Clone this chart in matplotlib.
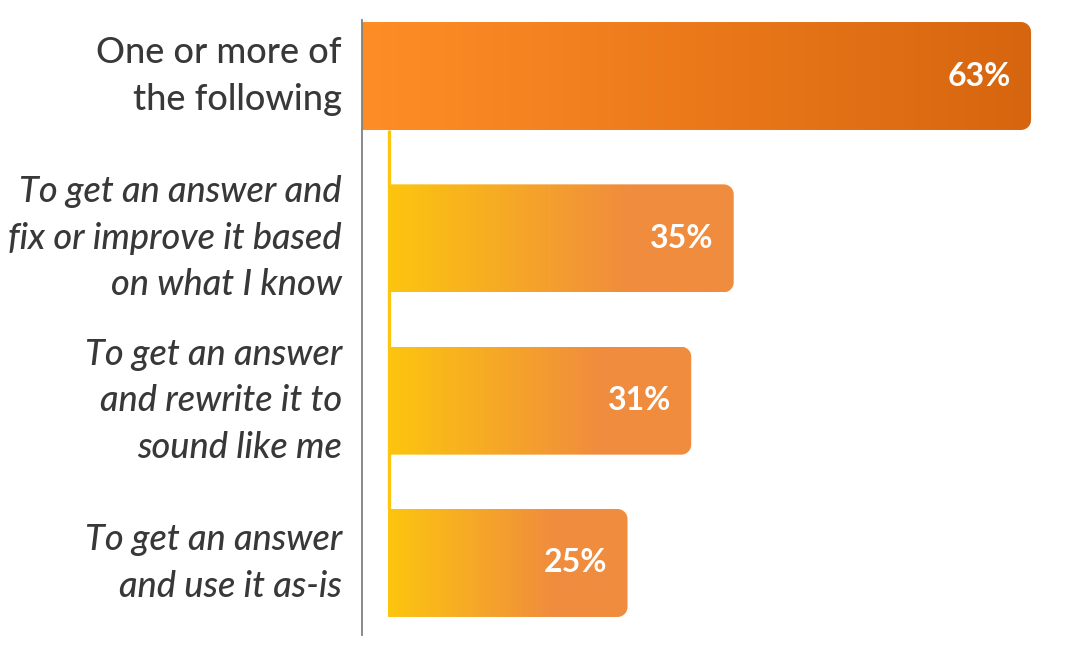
import matplotlib
matplotlib.use("Agg")
import matplotlib.pyplot as plt
from matplotlib.patches import Polygon
from matplotlib.colors import to_rgb
import numpy as np

CATEGORIES = [
    "One or more of\nthe following",
    "To get an answer and\nfix or improve it based\non what I know",
    "To get an answer\nand rewrite it to\nsound like me",
    "To get an answer\nand use it as-is",
]
VALUES = [63, 35, 31, 25]

W, H = 1066, 663
X_PX = 10.62         # pixels per percent
Y_PX = 162.33        # pixels per category step
INDENT = 26 / X_PX   # sub-bars start a bit right of the axis
BAR_H = 0.665

TEXT_COLOR = "#383838"


def right_rounded(x0, x1, yc, h, rx, ry, n=16):
    y0, y1 = yc - h / 2, yc + h / 2
    t = np.linspace(0, np.pi / 2, n)
    c1 = np.column_stack([x1 - rx + rx * np.sin(t), y0 + ry - ry * np.cos(t)])
    c2 = np.column_stack([x1 - rx + rx * np.cos(t), y1 - ry + ry * np.sin(t)])
    pts = [(x0, y0)] + c1.tolist() + c2.tolist() + [(x0, y1)]
    return Polygon(pts, closed=True)


def gradient(c0, c1, stop, n=256):
    f = np.clip(np.linspace(0, 1, n) / stop, 0, 1)[:, None]
    a, b = np.array(to_rgb(c0)), np.array(to_rgb(c1))
    return (a + (b - a) * f)[None, :, :]


fig = plt.figure(figsize=(W / 100, H / 100), dpi=100)
ax_left, ax_top, ax_bot = 362, 20, 635
xmax = (W - ax_left) / X_PX
ax = fig.add_axes([ax_left / W, (H - ax_bot) / H, (W - ax_left) / W, (ax_bot - ax_top) / H])

rx = 10 / X_PX
ry = 10 / Y_PX

for i, (cat, v) in enumerate(zip(CATEGORIES, VALUES)):
    if i == 0:
        x0 = 0
        img = gradient("#ff8d26", "#d6650f", 1.0)
    else:
        x0 = INDENT
        img = gradient("#fcc50f", "#f08c3e", 0.7)
    poly = right_rounded(x0, v, i, BAR_H, rx, ry)
    poly.set_transform(ax.transData)
    im = ax.imshow(img, extent=(x0, v, i + BAR_H / 2, i - BAR_H / 2),
                   aspect="auto", interpolation="bilinear", zorder=2)
    im.set_clip_path(poly)

    ax.annotate(f"{v}%", xy=(v, i), xytext=(-20, 0), textcoords="offset pixels",
                ha="right", va="center", color="white", fontsize=23,
                fontweight="bold", family="Lato", zorder=3)

    ax.annotate(cat, xy=(0, i), xytext=(-20, 0), textcoords="offset pixels",
                ha="right", va="center", multialignment="right",
                color=TEXT_COLOR, fontsize=26, family="Lato", fontweight="medium",
                style="normal" if i == 0 else "italic", linespacing=1.5,
                annotation_clip=False)

# thin yellow connector down the left edge of the sub-bars
ax.plot([INDENT + 1.5 / X_PX] * 2, [BAR_H / 2, len(VALUES) - 1 - BAR_H / 2],
        color="#fcc50f", lw=2.4, zorder=1, solid_capstyle="butt")

ax.set_xlim(0, xmax)
ax.set_ylim(3 + (ax_bot - 563) / Y_PX, -(76 - ax_top) / Y_PX)
for s in ["top", "right", "bottom"]:
    ax.spines[s].set_visible(False)
ax.spines["left"].set_color("#808080")
ax.spines["left"].set_linewidth(1.3)
ax.set_xticks([])
ax.set_yticks([])

fig.savefig("out.png", dpi=100)
